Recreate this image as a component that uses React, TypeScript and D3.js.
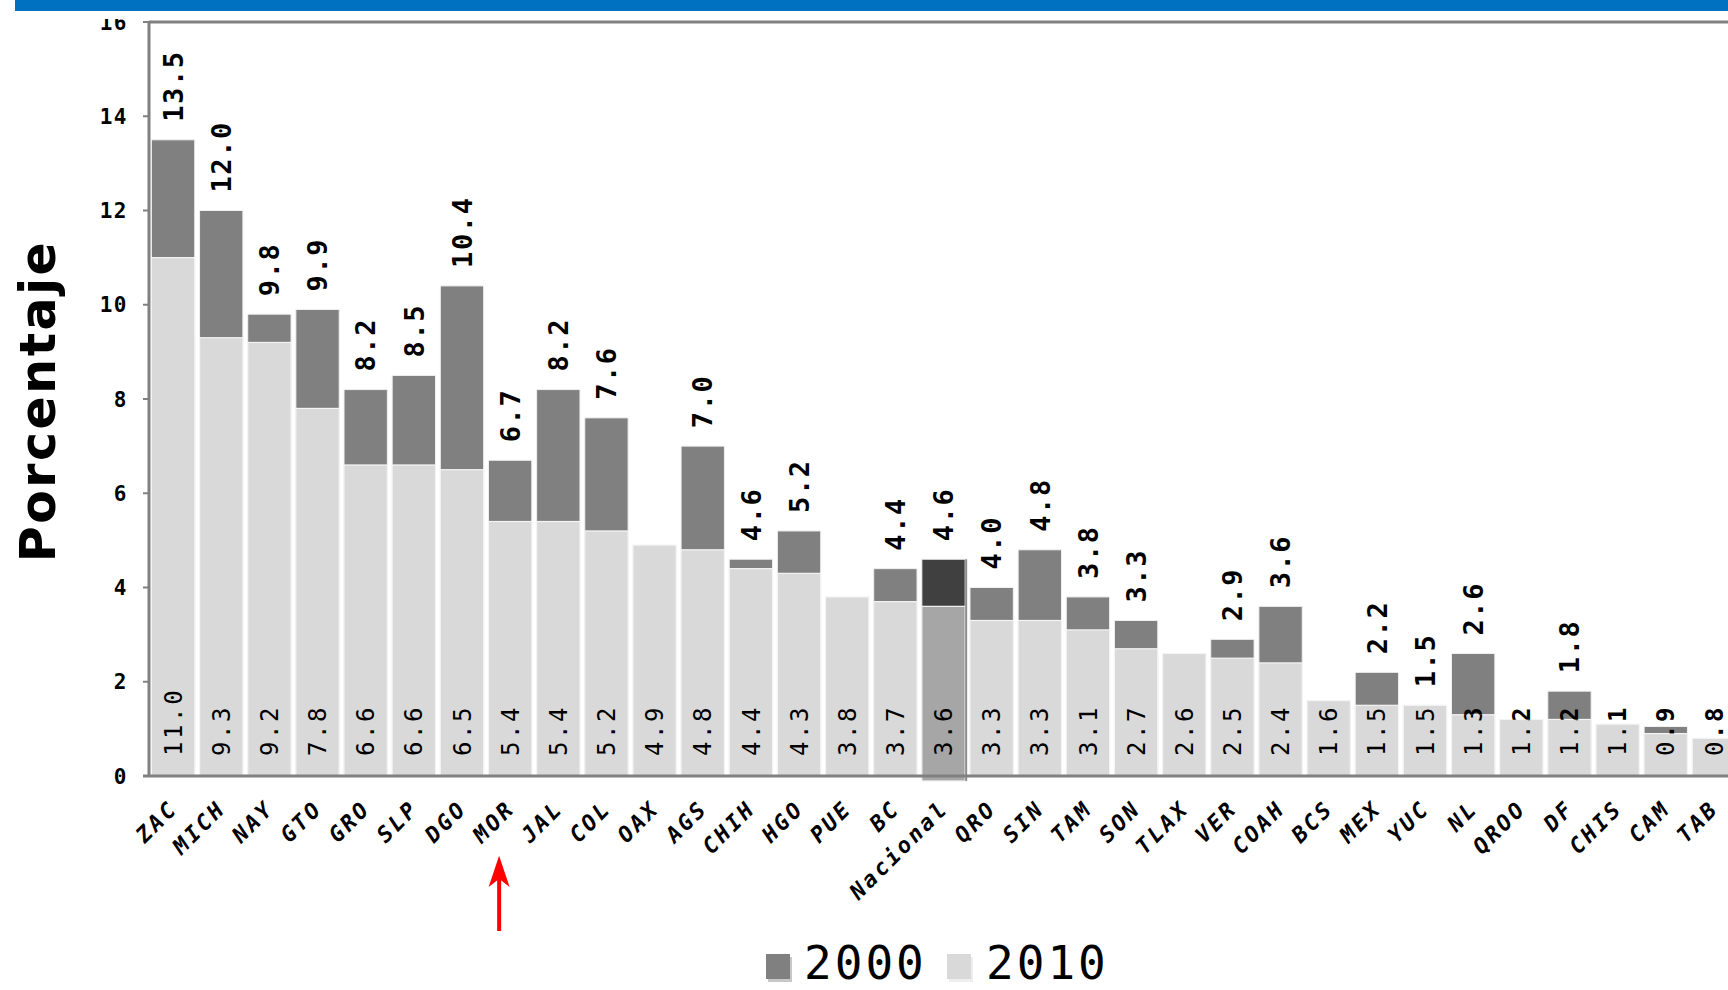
import React from "react";
import * as d3 from "d3";

const states = ["ZAC","MICH","NAY","GTO","GRO","SLP","DGO","MOR","JAL","COL","OAX","AGS","CHIH","HGO","PUE","BC","Nacional","QRO","SIN","TAM","SON","TLAX","VER","COAH","BCS","MEX","YUC","NL","QROO","DF","CHIS","CAM","TAB"];
const values2000: (number | null)[] = [13.5,12.0,9.8,9.9,8.2,8.5,10.4,6.7,8.2,7.6,null,7.0,4.6,5.2,null,4.4,4.6,4.0,4.8,3.8,3.3,null,2.9,3.6,null,2.2,1.5,2.6,null,1.8,null,1.05,null];
const values2010: number[] = [11.0,9.3,9.2,7.8,6.6,6.6,6.5,5.4,5.4,5.2,4.9,4.8,4.4,4.3,3.8,3.7,3.6,3.3,3.3,3.1,2.7,2.6,2.5,2.4,1.6,1.5,1.5,1.3,1.2,1.2,1.1,0.9,0.8];
const unlabeled2000 = ["CAM"];
const yTicks = [0,2,4,6,8,10,12,14,16];
const seriesNames = ["2000","2010"];
const highlighted = "Nacional";
const marked = "MOR";
const yTitle = "Porcentaje";

const W = 1728, H = 990;
const MONO = "'DejaVu Sans Mono', monospace";
const SANS = "'DejaVu Sans', sans-serif";
const fmt = d3.format(".1f");

export default function App() {
  const x = d3.scaleBand<string>().domain(states).range([149, 1738]).paddingInner(0.1).paddingOuter(0.05);
  const y = d3.scaleLinear().domain([0, 16]).range([776, 22]);
  const bw = x.bandwidth();
  const y0 = y(0);
  const colors = { dark: "#808080", light: "#d9d9d9", hDark: "#404040", hLight: "#a6a6a6" };

  const mx = (x(marked) as number) + bw / 2 - 11;

  return (
    <svg width={W} height={H} style={{ position: "absolute", left: 0, top: 0, background: "#fff" }}>
      <defs>
        <clipPath id="tickclip"><rect x={0} y={19} width={W} height={H} /></clipPath>
        {states.map((s, i) => {
          const x0 = x(s) as number;
          const yt = y(values2010[i]);
          return (
            <React.Fragment key={s}>
              <clipPath id={`in${i}`}><rect x={x0 - 3} y={yt} width={bw + 6} height={y0 - yt + 5} /></clipPath>
              <clipPath id={`out${i}`}><rect x={x0 - 3} y={0} width={bw + 6} height={yt} /></clipPath>
            </React.Fragment>
          );
        })}
      </defs>
      <rect x={0} y={0} width={W} height={H} fill="#fff" />
      <rect x={15} y={0} width={W - 15} height={11} fill="#0070c0" />

      {/* bars */}
      {states.map((s, i) => {
        const x0 = x(s) as number;
        const isH = s === highlighted;
        const v0 = values2000[i];
        const v1 = values2010[i];
        return (
          <g key={s}>
            {v0 != null && (
              <rect x={x0} y={y(v0)} width={bw} height={y0 - y(v0)} fill={isH ? colors.hDark : colors.dark} stroke="#f0f0f0" strokeWidth={1} />
            )}
            <rect x={x0} y={y(v1)} width={bw} height={y0 - y(v1) + (isH ? 5 : 0)} fill={isH ? colors.hLight : colors.light} stroke="#f4f4f4" strokeWidth={1.2} />
            {isH && (
              <line x1={x0 + bw + 1} x2={x0 + bw + 1} y1={y(v0 ?? v1)} y2={y0 + 5} stroke="#8c8c8c" strokeWidth={2} />
            )}
          </g>
        );
      })}

      {/* axes */}
      <line x1={149} x2={W} y1={22} y2={22} stroke="#808080" strokeWidth={3} />
      <line x1={149} x2={149} y1={21} y2={y0 + 1} stroke="#808080" strokeWidth={3} />
      <line x1={143} x2={W} y1={y0} y2={y0} stroke="#808080" strokeWidth={3} />
      {yTicks.map((t) => (
        <line key={t} x1={143} x2={149} y1={y(t)} y2={y(t)} stroke="#808080" strokeWidth={2} />
      ))}
      <g clipPath="url(#tickclip)">
        {yTicks.map((t) => (
          <text key={t} x={128} y={y(t)} dy="0.36em" textAnchor="end" fontFamily={MONO} fontWeight="bold" fontSize={21} letterSpacing={1.5} fill="#000">
            {t}
          </text>
        ))}
      </g>

      {/* y title */}
      <text x={55} y={401} transform="rotate(-90 55 401)" textAnchor="middle" fontFamily={SANS} fontWeight="bold" fontSize={49} letterSpacing={2.5} fill="#000">
        {yTitle}
      </text>

      {/* x labels */}
      {states.map((s) => {
        const ax = (x(s) as number) + bw / 2 + 6;
        const ay = 810;
        return (
          <text key={s} x={ax} y={ay} transform={`rotate(-45 ${ax} ${ay})`} textAnchor="end" fontFamily={MONO} fontWeight="bold" fontStyle="italic" fontSize={22} letterSpacing={2.8} fill="#000">
            {s}
          </text>
        );
      })}

      {/* 2010 labels: thin inside bar, bold where over white */}
      {states.map((s, i) => {
        const cx = (x(s) as number) + bw / 2;
        const ly = y0 - 20;
        const t = fmt(values2010[i]);
        const common = {
          x: cx, y: ly, dy: "0.36em", transform: `rotate(-90 ${cx} ${ly})`,
          fontFamily: MONO, fontSize: 24, letterSpacing: 2.6, fill: "#000",
        } as any;
        return (
          <g key={s}>
            <g clipPath={`url(#in${i})`}><text {...common}>{t}</text></g>
            <g clipPath={`url(#out${i})`}><text {...common} fontWeight="bold">{t}</text></g>
          </g>
        );
      })}

      {/* 2000 labels */}
      {states.map((s, i) => {
        const v0 = values2000[i];
        if (v0 == null || unlabeled2000.includes(s)) return null;
        const cx = (x(s) as number) + bw / 2;
        const ly = y(v0) - 18;
        return (
          <text key={s} x={cx} y={ly} dy="0.36em" transform={`rotate(-90 ${cx} ${ly})`} fontFamily={MONO} fontWeight="bold" fontSize={27} letterSpacing={1.6} fill="#000">
            {fmt(v0)}
          </text>
        );
      })}

      {/* red arrow */}
      <line x1={mx} x2={mx} y1={931} y2={872} stroke="#ff0000" strokeWidth={4} />
      <path d={`M${mx},858 L${mx - 9},885 L${mx},878 L${mx + 9},885 Z`} fill="#ff0000" stroke="#ff0000" strokeWidth={1.5} strokeLinejoin="miter" />

      {/* legend */}
      <g>
        <rect x={768} y={957} width={24} height={25} fill="#c8c8c8" />
        <rect x={766} y={954} width={24} height={25} fill={colors.dark} />
        <text x={804} y={979} fontFamily={MONO} fontSize={46} letterSpacing={3} fill="#000">{seriesNames[0]}</text>
        <rect x={949} y={957} width={24} height={25} fill="#eeeeee" />
        <rect x={947} y={954} width={24} height={25} fill={colors.light} />
        <text x={986} y={979} fontFamily={MONO} fontSize={46} letterSpacing={3} fill="#000">{seriesNames[1]}</text>
      </g>
    </svg>
  );
}
